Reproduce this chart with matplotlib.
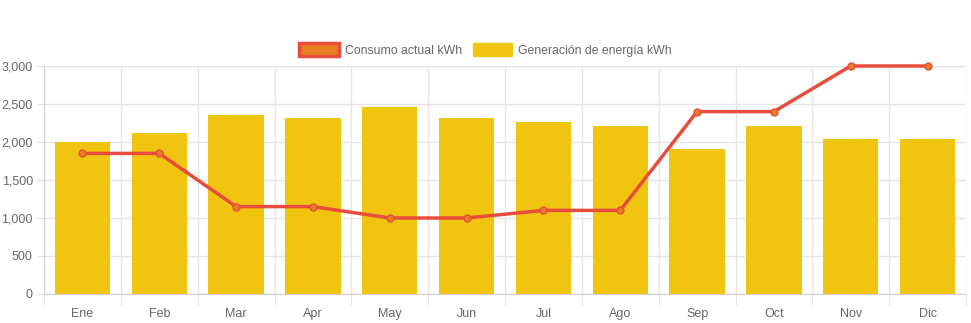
import numpy as np
import matplotlib.pyplot as plt
from matplotlib.patches import Patch
from matplotlib.ticker import FuncFormatter

meses = ['Ene', 'Feb', 'Mar', 'Apr', 'May', 'Jun', 'Jul', 'Ago', 'Sep', 'Oct', 'Nov', 'Dic']
consumo = [1850, 1850, 1150, 1150, 1000, 1000, 1100, 1100, 2400, 2400, 3000, 3000]
generacion = [2000, 2120, 2360, 2320, 2460, 2320, 2260, 2210, 1910, 2210, 2040, 2040]

plt.rcParams['font.family'] = ['Liberation Sans', 'DejaVu Sans']

fig = plt.figure(figsize=(9.71, 3.23), dpi=100)
ax = fig.add_axes([44/971, 29/323, 922/971, 228/323])

x = np.arange(len(meses))
ax.bar(x, generacion, width=0.72, color='#F1C40F', zorder=2)
ax.plot(x, consumo, color='#E74C3C', lw=2.5, marker='o', ms=5,
        mfc='#E67E22', mec='#E74C3C', mew=1, zorder=3, clip_on=False)

ax.set_xlim(-0.5, len(meses) - 0.5)
ax.set_ylim(0, 3000)
ax.set_yticks(np.arange(0, 3001, 500))
ax.yaxis.set_major_formatter(FuncFormatter(lambda v, p: f'{int(v):,}'))
ax.set_xticks(x)
ax.set_xticklabels(meses)
ax.set_xticks(np.arange(-0.5, len(meses)), minor=True)

ax.grid(axis='y', color='#e5e5e5', lw=1, zorder=0)
ax.grid(axis='x', which='minor', color='#e5e5e5', lw=1, zorder=0)
ax.tick_params(axis='x', which='major', length=0, pad=10, labelsize=9, labelcolor='#666666')
ax.tick_params(axis='x', which='minor', length=8, color='#e0e0e0')
ax.tick_params(axis='y', length=5, color='#e0e0e0', pad=3, labelsize=9, labelcolor='#666666')
for s in ['top', 'right']:
    ax.spines[s].set_visible(False)
ax.spines['left'].set_color('#d0d0d0')
ax.spines['bottom'].set_color('#d0d0d0')

handles = [Patch(facecolor='#E67E22', edgecolor='#E74C3C', lw=2.5, label='Consumo actual kWh'),
           Patch(facecolor='#F1C40F', edgecolor='#F1C40F', label='Generación de energía kWh')]
fig.legend(handles=handles, loc='center', bbox_to_anchor=(0.5, 1 - 50/323), ncol=2,
           frameon=False, fontsize=8.8, labelcolor='#666666', handlelength=3.2,
           handleheight=1.3, columnspacing=0.9, handletextpad=0.5)

fig.savefig('out.png', dpi=100)
